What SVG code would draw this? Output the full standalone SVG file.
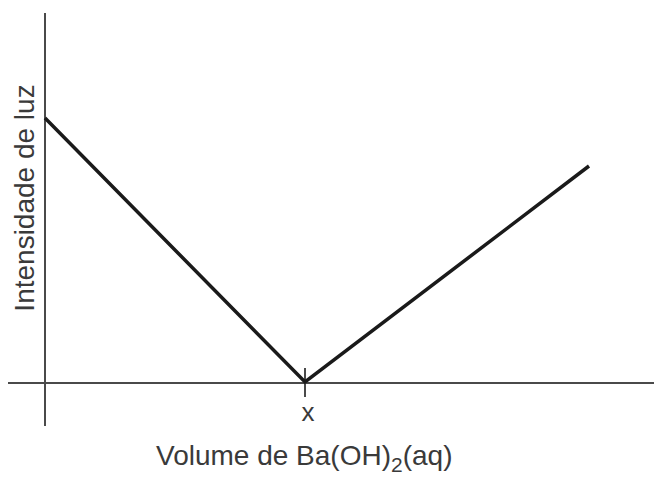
<svg xmlns="http://www.w3.org/2000/svg" width="654" height="477" viewBox="0 0 654 477">
<style>
.axis{stroke:#4a4a4a;stroke-width:2;fill:none}
.curve{stroke:#1a1a1a;stroke-width:3.5;fill:none;stroke-linejoin:miter}
.lbl{font-family:"Liberation Sans",Arial,sans-serif;fill:#3a3a3a}
</style>
<rect width="654" height="477" fill="#ffffff"/>
<g id="axes">
<line class="axis" x1="45" y1="13" x2="45" y2="426"/>
<line class="axis" x1="8" y1="383" x2="654" y2="383"/>
<line class="axis" x1="305" y1="368" x2="305" y2="397"/>
</g>
<g id="connectors">
<polyline class="curve" points="45,118 305,382 589,166"/>
</g>
<g id="labels">
<text class="lbl" x="308" y="421" font-size="26" text-anchor="middle">x</text>
<text class="lbl" font-size="28" text-anchor="middle" transform="translate(34,198) rotate(-90)">Intensidade de luz</text>
<text class="lbl" x="156" y="465" font-size="28">Volume de Ba(OH)<tspan font-size="21" dy="7">2</tspan><tspan dy="-7">(aq)</tspan></text>
</g>
</svg>
